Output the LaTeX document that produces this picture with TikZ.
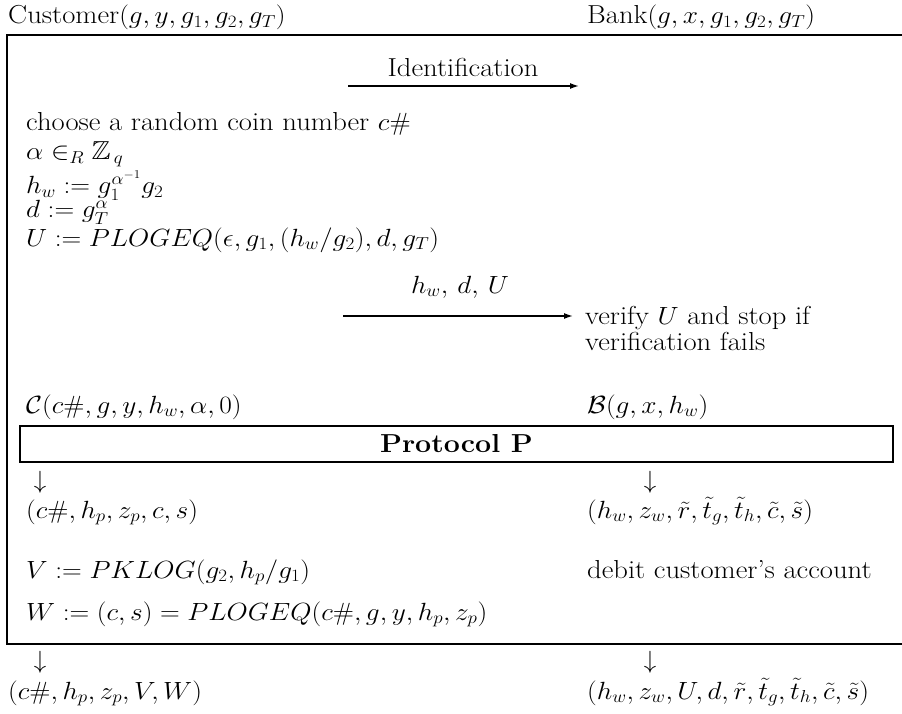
\documentclass[tikz,border=0pt]{standalone}
\usepackage{amsmath,amssymb,graphicx}
\usetikzlibrary{arrows.meta}
\newcommand{\hs}[1]{\scalebox{1.1}[1]{#1}}
\begin{document}
\begin{tikzpicture}[x=1pt,y=-1pt,
  txt/.style={anchor=base west,inner sep=0pt,font=\fontsize{26}{30}\selectfont},
  ctxt/.style={anchor=base,inner sep=0pt,font=\fontsize{26}{30}\selectfont},
  frame/.style={line width=2pt},
  msg/.style={line width=1.5pt,-{Latex[length=9pt,width=6pt]}}]
\useasboundingbox (0,0) rectangle (902,714);
% headers
\node[txt] (cust) at (8,24) {\hs{Customer$(g,y,g_1,g_2,g_T)$}};
\node[txt] (bank) at (587,24) {\hs{Bank$(g,x,g_1,g_2,g_T)$}};
% frame
\coordinate (ftr) at (910,35);
\coordinate (ftl) at (7,35);
\coordinate (fbl) at (7,644);
\coordinate (fbr) at (910,644);
\draw[frame] (ftr) -- (ftl) -- (fbl) -- (fbr);
% identification
\node[ctxt] (ident) at (463,77) {\hs{Identification}};
\coordinate (a1s) at (348,86);
\coordinate (a1e) at (579,86);
\draw[msg] (a1s) -- (a1e);
% customer computations
\node[txt] (l1) at (26,131) {\hs{choose a random coin number $c\#$}};
\node[txt] (l2) at (26,160) {\hs{$\alpha\in_R\mathbb{Z}_{\,q}$}};
\node[txt] (l3) at (26,194) {\hs{$h_w:=g_1^{\alpha^{-1}}g_2$}};
\node[txt] (l4) at (26,218) {\hs{$d:=g_T^{\alpha}$}};
\node[txt] (l5) at (26,246) {\hs{$U:=PLOGEQ(\epsilon,g_1,(h_w/g_2),d,g_T)$}};
% second message
\node[ctxt] (m2) at (460,293) {\hs{$h_w,\,d,\,U$}};
\coordinate (a2s) at (343,316);
\coordinate (a2e) at (573,316);
\draw[msg] (a2s) -- (a2e);
\node[txt] (v1) at (585,324) {\hs{verify $U$ and stop if}};
\node[txt] (v2) at (585,350) {\hs{verification fails}};
% protocol inputs
\node[txt] (cin) at (26,413) {\hs{$\mathcal{C}(c\#,g,y,h_w,\alpha,0)$}};
\node[txt] (bin) at (587,413) {\hs{$\mathcal{B}(g,x,h_w)$}};
\node[draw,frame,minimum width=873pt,minimum height=36pt,inner sep=0pt,
  font=\fontsize{26}{30}\selectfont\bfseries] (pp) at (456.5,444) {\hs{Protocol P}};
\node[ctxt] (d1) at (40,488) {$\downarrow$};
\node[ctxt] (d2) at (650,488) {$\downarrow$};
\node[txt] (cout) at (26,518) {\hs{$(c\#,h_p,z_p,c,s)$}};
\node[txt] (bout) at (587,518) {\hs{$(h_w,z_w,\tilde r,\tilde t_g,\tilde t_h,\tilde c,\tilde s)$}};
\node[txt] (lv) at (26,578) {\hs{$V:=PKLOG(g_2,h_p/g_1)$}};
\node[txt] (debit) at (587,578) {\hs{debit customer's account}};
\node[txt] (lw) at (26,620) {\hs{$W:=(c,s)=PLOGEQ(c\#,g,y,h_p,z_p)$}};
% outputs
\node[ctxt] (d3) at (40,668) {$\downarrow$};
\node[ctxt] (d4) at (650,668) {$\downarrow$};
\node[txt] (fc) at (8,699) {\hs{$(c\#,h_p,z_p,V,W)$}};
\node[txt] (fb) at (587,699) {\hs{$(h_w,z_w,U,d,\tilde r,\tilde t_g,\tilde t_h,\tilde c,\tilde s)$}};
\end{tikzpicture}
\end{document}
